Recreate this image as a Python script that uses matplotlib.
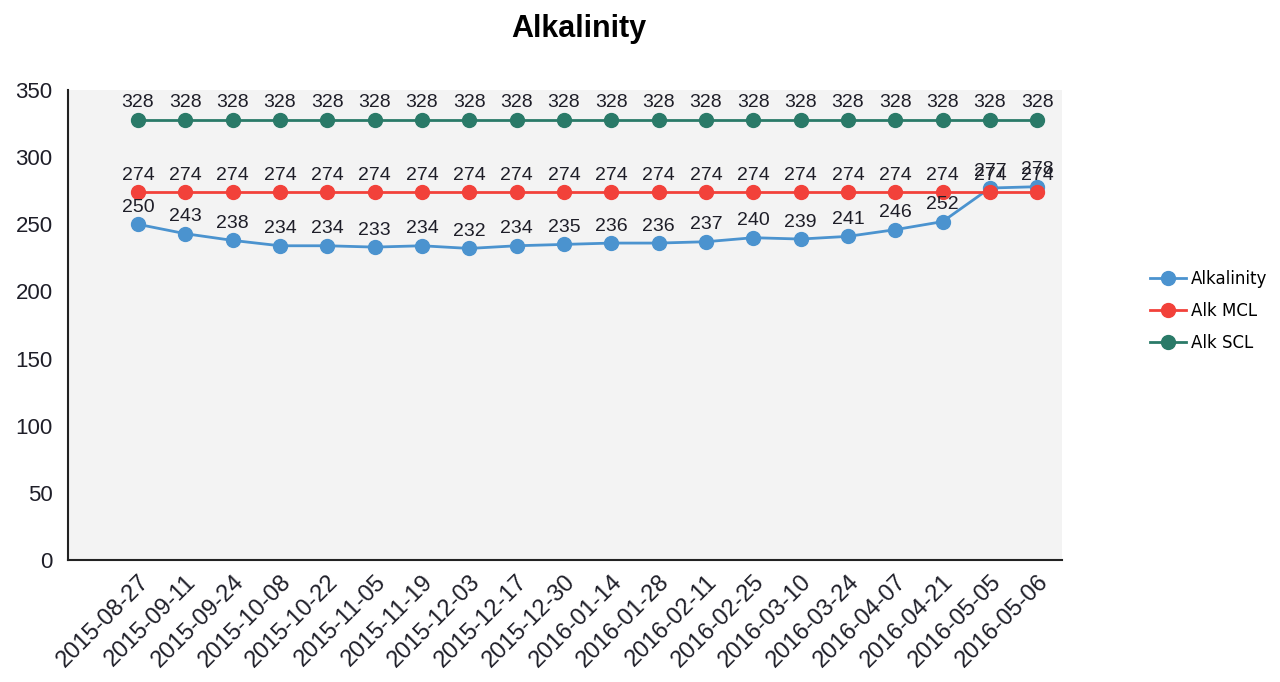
import matplotlib.pyplot as plt

plt.rcParams["font.family"] = ["Liberation Sans", "DejaVu Sans"]

dates = ["2015-08-27", "2015-09-11", "2015-09-24", "2015-10-08", "2015-10-22",
         "2015-11-05", "2015-11-19", "2015-12-03", "2015-12-17", "2015-12-30",
         "2016-01-14", "2016-01-28", "2016-02-11", "2016-02-25", "2016-03-10",
         "2016-03-24", "2016-04-07", "2016-04-21", "2016-05-05", "2016-05-06"]
alkalinity = [250, 243, 238, 234, 234, 233, 234, 232, 234, 235,
              236, 236, 237, 240, 239, 241, 246, 252, 277, 278]
alk_mcl = [274] * 20
alk_scl = [328] * 20

series = [
    ("Alkalinity", alkalinity, "#4b93cf"),
    ("Alk MCL", alk_mcl, "#f2413a"),
    ("Alk SCL", alk_scl, "#2a7a68"),
]

fig = plt.figure(figsize=(12.8, 6.82), dpi=100)
ax = fig.add_axes([0.053, 0.179, 0.777, 0.689])
ax.set_facecolor("#f3f3f3")
x = list(range(len(dates)))

for name, vals, color in series:
    ax.plot(x, vals, "-o", color=color, lw=2, ms=10, label=name)
    for xi, v in zip(x, vals):
        ax.annotate(str(v), (xi, v), xytext=(0, 6), textcoords="offset points",
                    ha="center", va="bottom", fontsize=14, color="#1e1e28")

ax.set_xlim(-1.48, 19.53)
ax.set_ylim(0, 350)
ax.set_yticks(range(0, 351, 50))
ax.set_xticks(x)
ax.set_xticklabels(dates, rotation=45, ha="right", rotation_mode="anchor",
                   fontsize=17, color="#1e1e28")
ax.tick_params(axis="y", labelsize=16, length=0, pad=11, labelcolor="#1e1e28")
ax.tick_params(axis="x", length=0, pad=8)
for s in ["top", "right"]:
    ax.spines[s].set_visible(False)
for s in ["left", "bottom"]:
    ax.spines[s].set_linewidth(1.5)
    ax.spines[s].set_color("#222222")

fig.text(0.452, 0.958, "Alkalinity", fontsize=22, fontweight="bold",
         ha="center", va="center")
fig.legend(loc="center left", bbox_to_anchor=(0.893, 0.544), frameon=False,
           prop={"family": "DejaVu Sans", "size": 12}, handlelength=2.2,
           handletextpad=0.3, labelspacing=0.85, borderaxespad=0)

plt.savefig("out.png", dpi=100)
